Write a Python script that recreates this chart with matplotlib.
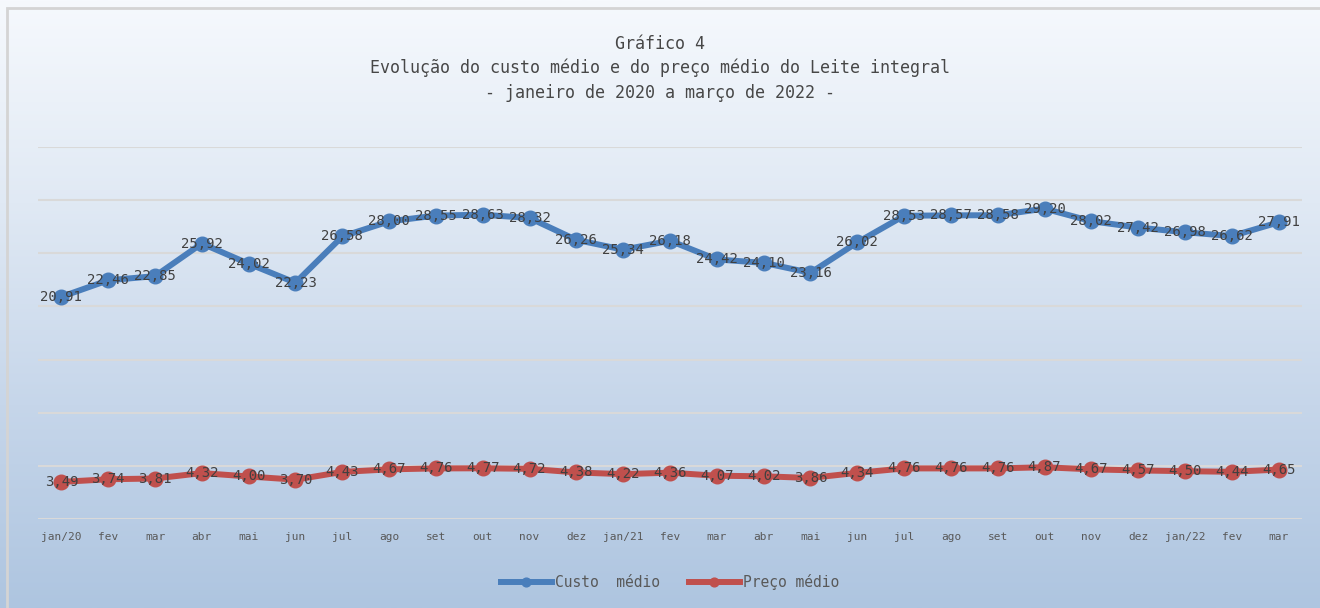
import matplotlib
matplotlib.use("Agg")
import matplotlib.pyplot as plt
import numpy as np
from matplotlib.colors import LinearSegmentedColormap
from matplotlib.patches import Rectangle

plt.rcParams['font.family'] = ['DejaVu Sans Mono', 'Noto Sans CJK SC']

meses = ['jan/20', 'fev', 'mar', 'abr', 'mai', 'jun', 'jul', 'ago', 'set', 'out', 'nov', 'dez',
         'jan/21', 'fev', 'mar', 'abr', 'mai', 'jun', 'jul', 'ago', 'set', 'out', 'nov', 'dez',
         'jan/22', 'fev', 'mar']
custo = [20.91, 22.46, 22.85, 25.92, 24.02, 22.23, 26.58, 28.00, 28.55, 28.63, 28.32, 26.26,
         25.34, 26.18, 24.42, 24.10, 23.16, 26.02, 28.53, 28.57, 28.58, 29.20, 28.02, 27.42,
         26.98, 26.62, 27.91]
preco = [3.49, 3.74, 3.81, 4.32, 4.00, 3.70, 4.43, 4.67, 4.76, 4.77, 4.72, 4.38,
         4.22, 4.36, 4.07, 4.02, 3.86, 4.34, 4.76, 4.76, 4.76, 4.87, 4.67, 4.57,
         4.50, 4.44, 4.65]

fig = plt.figure(figsize=(13.2, 6.08), dpi=100)

# fundo em degradê
bg = fig.add_axes([0, 0, 1, 1], zorder=-10)
cmap = LinearSegmentedColormap.from_list('g', ['#f6f9fd', '#e0e9f4', '#c6d6ea', '#aec5e0'])
grad = np.linspace(0, 1, 256).reshape(-1, 1)
bg.imshow(grad, aspect='auto', cmap=cmap, extent=[0, 1, 0, 1], origin='upper')
bg.add_patch(Rectangle((7 / 1320, -0.01), 1.0, 1 - 8 / 608 + 0.01, fill=False,
                       edgecolor='#d4d4d4', lw=2, transform=bg.transAxes))
bg.set_xlim(0, 1)
bg.set_ylim(0, 1)
bg.axis('off')

ax = fig.add_axes([38 / 1320, 1 - 519 / 608, 1264 / 1320, 372 / 608])
ax.patch.set_alpha(0)
x = np.arange(len(meses))
azul = '#4a7ebb'
verm = '#c0504d'
ax.plot(x, custo, color=azul, lw=4.3, marker='o', ms=10.5, label='Custo  médio', zorder=3)
ax.plot(x, preco, color=verm, lw=4.3, marker='o', ms=10.5, label='Preço médio', zorder=3)

for xi, v in zip(x, custo):
    ax.text(xi, v, f'{v:.2f}'.replace('.', ','), ha='center', va='center', fontsize=10,
            color='#404040', zorder=4)
for xi, v in zip(x, preco):
    ax.text(xi, v, f'{v:.2f}'.replace('.', ','), ha='center', va='center', fontsize=10,
            color='#404040', zorder=4)

ax.set_xlim(-0.5, len(meses) - 0.5)
ax.set_ylim(0, 35)
ax.set_yticks(np.arange(0, 36, 5))
ax.yaxis.grid(True, color='#d9d9d9', lw=1.5)
ax.set_axisbelow(True)
ax.tick_params(axis='y', left=False, labelleft=False)
ax.set_xticks(x)
ax.set_xticklabels(meses, fontsize=8, color='#595959')
ax.tick_params(axis='x', length=0, pad=9)
for s in ax.spines.values():
    s.set_visible(False)

cor_tit = '#474747'
fig.text(0.5, 1 - 44 / 608, 'Gráfico 4', ha='center', va='center', fontsize=12, color=cor_tit)
fig.text(0.5, 1 - 68 / 608, 'Evolução do custo médio e do preço médio do Leite integral',
         ha='center', va='center', fontsize=12, color=cor_tit)
fig.text(0.5, 1 - 93 / 608, '- janeiro de 2020 a março de 2022 -', ha='center', va='center',
         fontsize=12, color=cor_tit)

ax.legend(loc='center', bbox_to_anchor=(0.5, (1 - 582 / 608 - (1 - 519 / 608)) / (372 / 608)),
          bbox_transform=ax.transAxes, ncol=2, frameon=False, fontsize=10.5,
          handlelength=3.5, handletextpad=0.2, columnspacing=2.0, markerscale=0.6,
          labelcolor='#595959')

fig.savefig('out.png', dpi=100)
